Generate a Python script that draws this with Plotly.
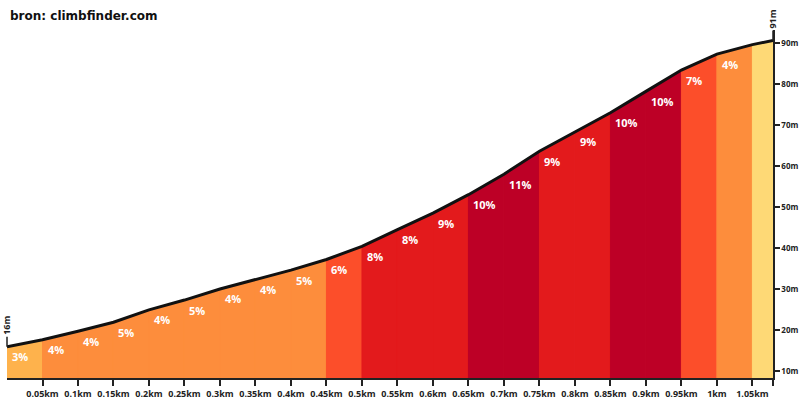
import plotly.graph_objects as go

# afstand (km) en hoogte (m) op de segmentgrenzen
dist = [0, 0.05, 0.1, 0.15, 0.2, 0.25, 0.3, 0.35, 0.4, 0.45, 0.5, 0.55,
        0.6, 0.65, 0.7, 0.75, 0.8, 0.85, 0.9, 0.95, 1.0, 1.05, 1.079]
elev = [15.9, 17.6, 19.7, 21.9, 24.9, 27.3, 30.0, 32.3, 34.6, 37.2, 40.4, 44.5,
        48.5, 53.0, 58.0, 63.6, 68.4, 73.0, 78.2, 83.4, 87.3, 89.6, 90.6]
# stijging per segment (%)
grades = [3, 4, 4, 5, 4, 5, 4, 4, 5, 6, 8, 8, 9, 10, 11, 9, 9, 10, 10, 7, 4, 2]

tick_km = [0.05, 0.1, 0.15, 0.2, 0.25, 0.3, 0.35, 0.4, 0.45, 0.5, 0.55,
           0.6, 0.65, 0.7, 0.75, 0.8, 0.85, 0.9, 0.95, 1, 1.05]
tick_txt = ["0.05km", "0.1km", "0.15km", "0.2km", "0.25km", "0.3km", "0.35km",
            "0.4km", "0.45km", "0.5km", "0.55km", "0.6km", "0.65km", "0.7km",
            "0.75km", "0.8km", "0.85km", "0.9km", "0.95km", "1km", "1.05km"]
y_ticks = [10, 20, 30, 40, 50, 60, 70, 80, 90]
y_txt = ["10m", "20m", "30m", "40m", "50m", "60m", "70m", "80m", "90m"]


def grade_color(g):
    if g < 3:
        return "#FED976"
    if g < 4:
        return "#FEB24C"
    if g < 6:
        return "#FD8D3C"
    if g < 8:
        return "#FC4E2A"
    if g < 10:
        return "#E31A1C"
    if g < 12:
        return "#BD0026"
    return "#800026"


fig = go.Figure()

for i, g in enumerate(grades):
    c = grade_color(g)
    x0, x1 = dist[i], dist[i + 1]
    fig.add_trace(go.Scatter(
        x=[x0, x0, x1, x1, x0], y=[0, elev[i], elev[i + 1], 0, 0],
        fill="toself", fillcolor=c, mode="lines",
        line=dict(width=1, color=c), hoverinfo="skip", showlegend=False))

fig.add_trace(go.Scatter(x=dist, y=elev, mode="lines",
                         line=dict(color="#111111", width=3),
                         hoverinfo="skip", showlegend=False))

lab_font = dict(family="Open Sans", size=11, color="white", weight="bold")
for i, g in enumerate(grades):
    if dist[i + 1] - dist[i] < 0.045:
        continue
    fig.add_annotation(x=dist[i], y=elev[i], text=f"{g}%", showarrow=False,
                       xanchor="left", yanchor="middle", xshift=3, yshift=-10,
                       font=lab_font)

mark_font = dict(family="Open Sans", size=9, color="#222222", weight="bold")
for xv, yv in [(dist[0], elev[0]), (dist[-1], elev[-1])]:
    fig.add_annotation(x=xv, y=yv, text=f"{round(yv)}m", textangle=-90,
                       showarrow=True, arrowhead=0, arrowwidth=1.5,
                       arrowcolor="#222222", ax=0, ay=-21, font=mark_font)

fig.update_layout(
    width=800, height=400,
    margin=dict(l=7, r=27, t=30, b=22),
    paper_bgcolor="white", plot_bgcolor="white",
    title=dict(text="<b>bron: climbfinder.com</b>", x=10 / 800, xanchor="left",
               xref="container", y=1 - 16 / 400, yanchor="middle", yref="container",
               font=dict(family="DejaVu Sans", size=12, color="#111111")),
    xaxis=dict(range=[0, 1.079], showgrid=False, zeroline=False,
               showline=True, linecolor="#222222", linewidth=1.5,
               tickvals=tick_km + [1.079], ticktext=tick_txt + [""],
               ticks="outside", ticklen=6, tickwidth=1.5, tickcolor="#222222",
               automargin=False,
               tickfont=dict(family="Open Sans", size=9, color="#222222", weight="bold")),
    yaxis=dict(range=[8.29, 93.17], side="right", showgrid=False, zeroline=False,
               showline=True, linecolor="#222222", linewidth=1.5,
               tickvals=y_ticks, ticktext=y_txt,
               ticks="outside", ticklen=5, tickwidth=1.5, tickcolor="#222222",
               ticklabelstandoff=0, automargin=False,
               tickfont=dict(family="Open Sans", size=8, color="#222222", weight="bold")),
)

fig.write_html("out.html", config={"displayModeBar": False},
               post_script="document.body.style.margin='0';")
